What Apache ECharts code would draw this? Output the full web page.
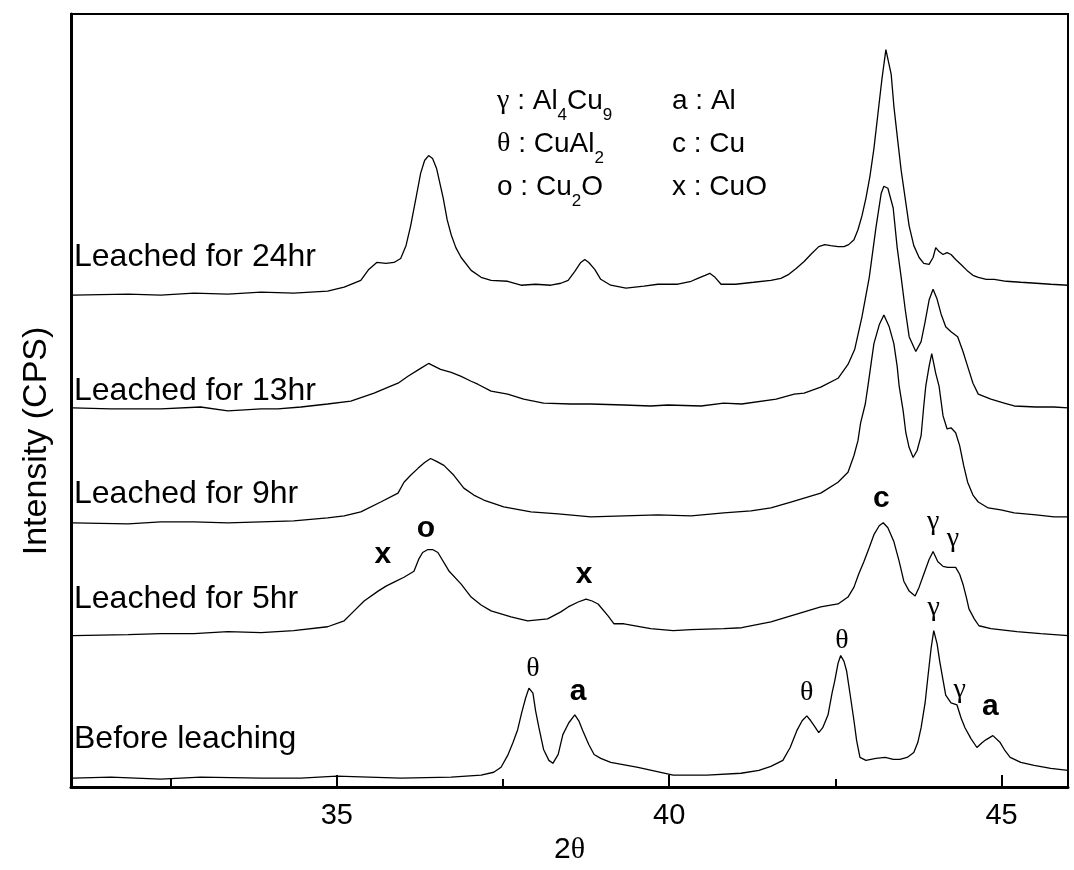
<!DOCTYPE html>
<html><head><meta charset="utf-8">
<script src="https://cdn.jsdelivr.net/npm/echarts/dist/echarts.min.js"></script>
<style>html,body{margin:0;padding:0;background:#fff}#c{width:1074px;height:870px}</style>
</head><body><div id="c"></div>
<script>
// ---- data (2θ in degrees, intensity in arbitrary stacked units) ----
const seriesNames = ['Leached for 24hr','Leached for 13hr','Leached for 9hr','Leached for 5hr','Before leaching'];
const majorTicks = [35, 40, 45];
const minorTicks = [32.5, 37.5, 42.5];

const leached24 = [[31.03,497],[31.86,498],[32.35,497],[32.85,499],[33.36,498],[33.86,500],[34.35,499],[34.86,501],[35.11,505],[35.36,512],[35.48,523],[35.60,530],[35.74,529],[35.86,530],[35.96,534],[36.04,547],[36.11,567],[36.19,595],[36.26,620],[36.32,633],[36.38,638],[36.44,635],[36.50,625],[36.60,595],[36.66,573],[36.72,558],[36.79,545],[36.87,535],[37.02,522],[37.17,515],[37.32,512],[37.57,511],[37.77,507],[37.99,508],[38.22,507],[38.37,509],[38.48,512],[38.58,521],[38.67,530],[38.73,533],[38.79,530],[38.88,523],[38.97,513],[39.12,507],[39.35,504],[39.62,506],[39.83,508],[40.13,508],[40.33,511],[40.43,514],[40.54,517],[40.61,519],[40.69,515],[40.78,508],[41.00,508],[41.27,510],[41.53,512],[41.68,514],[41.80,518],[41.91,524],[42.03,531],[42.13,538],[42.25,546],[42.34,548],[42.43,547],[42.54,546],[42.63,546],[42.70,548],[42.78,553],[42.84,563],[42.90,577],[42.96,595],[43.02,617],[43.08,645],[43.14,680],[43.20,715],[43.26,745],[43.29,743],[43.34,720],[43.38,688],[43.44,652],[43.49,623],[43.55,595],[43.61,567],[43.68,547],[43.76,535],[43.83,529],[43.91,528],[43.97,535],[44.01,545],[44.06,541],[44.12,538],[44.18,540],[44.24,538],[44.31,533],[44.39,528],[44.48,522],[44.57,517],[44.65,515],[44.77,513],[44.89,513],[45.07,511],[45.29,510],[45.52,509],[45.74,508],[46.0,507]];

const leached13 = [[31.03,383],[31.60,382],[32.35,382],[32.95,384],[33.36,380],[33.86,382],[34.11,382],[34.46,384],[34.86,387],[35.21,390],[35.56,398],[35.81,405],[35.92,408],[36.07,415],[36.26,423],[36.38,428],[36.47,425],[36.56,422],[36.72,419],[36.87,415],[37.02,410],[37.12,407],[37.32,400],[37.57,397],[37.81,392],[38.11,388],[38.52,387],[38.82,387],[39.32,386],[39.72,385],[39.98,386],[40.48,385],[40.82,388],[41.09,387],[41.61,392],[41.88,397],[42.03,398],[42.28,404],[42.54,413],[42.69,427],[42.79,442],[42.90,475],[43.01,515],[43.11,565],[43.19,600],[43.23,607],[43.29,605],[43.37,585],[43.43,545],[43.49,515],[43.55,483],[43.61,455],[43.71,440],[43.79,450],[43.85,470],[43.91,492],[43.97,503],[44.03,493],[44.09,478],[44.16,465],[44.24,460],[44.34,455],[44.42,440],[44.49,425],[44.57,408],[44.65,397],[44.84,392],[45.04,388],[45.19,385],[45.52,384],[45.79,384],[46.0,383]];

const leached9 = [[31.03,267],[31.86,266],[32.35,268],[32.85,268],[33.36,267],[33.86,268],[34.35,269],[34.86,272],[35.11,274],[35.36,278],[35.66,288],[35.92,297],[36.01,308],[36.11,315],[36.22,322],[36.32,328],[36.41,332],[36.50,329],[36.61,325],[36.76,315],[36.91,302],[37.06,295],[37.21,290],[37.51,283],[37.92,278],[38.33,276],[38.82,273],[39.32,274],[39.83,275],[40.33,274],[40.82,277],[41.23,279],[41.53,282],[41.83,288],[42.03,292],[42.28,297],[42.54,308],[42.69,318],[42.78,335],[42.84,350],[42.88,368],[42.95,387],[42.99,405],[43.04,429],[43.08,448],[43.16,467],[43.23,477],[43.31,465],[43.38,448],[43.43,425],[43.46,405],[43.52,380],[43.56,358],[43.61,343],[43.67,333],[43.73,340],[43.79,355],[43.83,385],[43.86,405],[43.91,425],[43.95,438],[44.01,418],[44.06,405],[44.12,375],[44.18,362],[44.24,363],[44.31,358],[44.37,345],[44.43,325],[44.49,308],[44.57,295],[44.65,288],[44.80,282],[44.99,280],[45.19,277],[45.52,275],[45.79,273],[46.0,273]];

const leached5 = [[31.03,153],[31.86,154],[32.35,155],[32.85,155],[33.36,157],[33.86,156],[34.35,158],[34.86,162],[35.11,168],[35.26,178],[35.41,188],[35.62,198],[35.74,203],[35.86,207],[36.01,212],[36.16,218],[36.23,230],[36.29,237],[36.37,240],[36.44,240],[36.52,237],[36.69,218],[36.87,205],[37.02,192],[37.17,184],[37.32,178],[37.62,172],[37.87,168],[38.17,170],[38.37,177],[38.48,182],[38.63,187],[38.75,190],[38.84,188],[38.93,185],[39.08,173],[39.17,165],[39.32,165],[39.72,160],[40.06,158],[40.33,159],[40.82,160],[41.09,161],[41.53,167],[41.83,173],[42.03,177],[42.28,182],[42.54,185],[42.69,192],[42.78,202],[42.85,215],[42.93,228],[43.01,242],[43.08,255],[43.16,264],[43.22,267],[43.29,262],[43.38,248],[43.46,228],[43.53,208],[43.61,198],[43.70,193],[43.76,202],[43.83,215],[43.91,230],[43.97,238],[44.04,228],[44.12,223],[44.19,222],[44.31,222],[44.37,215],[44.42,205],[44.47,192],[44.51,180],[44.59,170],[44.66,163],[44.84,160],[45.23,157],[45.59,155],[46.0,153]];

const beforeLeaching = [[31.03,9],[31.60,10],[32.35,8],[32.95,10],[33.86,9],[34.46,9],[35.00,11],[35.96,9],[36.72,10],[37.17,12],[37.36,15],[37.47,20],[37.57,32],[37.65,45],[37.72,58],[37.78,75],[37.84,90],[37.89,100],[37.95,95],[37.99,77],[38.04,60],[38.11,38],[38.19,27],[38.25,24],[38.33,33],[38.40,53],[38.49,65],[38.58,73],[38.64,67],[38.70,57],[38.79,43],[38.87,33],[38.97,29],[39.12,25],[39.53,20],[40.06,12],[40.57,12],[41.08,14],[41.35,17],[41.53,21],[41.71,27],[41.82,40],[41.92,57],[42.00,67],[42.07,72],[42.13,67],[42.18,62],[42.25,55],[42.31,60],[42.39,73],[42.45,95],[42.49,107],[42.54,125],[42.58,133],[42.63,127],[42.67,117],[42.73,90],[42.78,67],[42.82,47],[42.87,30],[42.96,27],[43.11,29],[43.25,30],[43.37,28],[43.47,28],[43.58,30],[43.68,35],[43.74,45],[43.79,60],[43.85,85],[43.89,110],[43.94,140],[43.98,158],[44.03,145],[44.07,127],[44.12,108],[44.16,93],[44.24,85],[44.33,83],[44.39,70],[44.45,60],[44.54,49],[44.63,40],[44.71,45],[44.77,48],[44.87,52],[44.98,45],[45.05,37],[45.13,30],[45.29,25],[45.49,22],[45.74,19],[46.0,17]];

// peak markers
const peakText = ['x','o','x','θ','a','θ','θ','c','γ','γ','γ','γ','a'];
const peakX    = [35.69,36.34,38.72,37.95,38.63,42.07,42.60,43.19,43.97,44.27,43.98,44.37,44.83];
const peakY    = [235,261,215,120,96,95,148,291,268,251,181,98,81];

const allSeries = [leached24, leached13, leached9, leached5, beforeLeaching];
const greek = ['θ','γ'];

const chart = echarts.init(document.getElementById('c'), null, {renderer:'canvas'});

const series = allSeries.map((d, i) => ({
  name: seriesNames[i], type: 'line', data: d, showSymbol: false, smooth: false,
  lineStyle: {color: '#000', width: 1.3}, animation: false, silent: true
}));
series.push({
  type: 'scatter', symbolSize: 1, itemStyle: {color: '#fff', opacity: 1}, animation: false, silent: true,
  data: peakText.map((t, i) => ({name: t, value: [peakX[i], peakY[i]]})),
  label: {
    show: true, position: [0.5, 0.5], align: 'center', verticalAlign: 'middle',
    color: '#000', textBorderWidth: 0, opacity: 1,
    formatter: p => greek.includes(p.name) ? '{g|' + p.name + '}' : '{l|' + p.name + '}',
    rich: {
      g: {fontFamily: 'Liberation Serif', fontSize: 28, color: '#000', textBorderWidth: 0},
      l: {fontFamily: 'Liberation Sans', fontSize: 30, fontWeight: 'bold', color: '#000', textBorderWidth: 0}
    }
  }
});

const labelYs = [257, 391, 494, 599, 739];
const graphics = seriesNames.map((n, i) => ({
  type: 'text', x: 74, y: labelYs[i], silent: true,
  style: {text: n, fontSize: 32, fontFamily: 'Liberation Sans', fill: '#000', align: 'left', verticalAlign: 'middle'}
}));
graphics.push({
  type: 'text', x: 37, y: 441, rotation: Math.PI / 2, silent: true,
  style: {text: 'Intensity (CPS)', fontSize: 34, fontFamily: 'Liberation Sans', fill: '#000', align: 'center', verticalAlign: 'middle'}
});
const richLegend = {
  m: {fontSize: 28, fontFamily: 'Liberation Sans', lineHeight: 28, verticalAlign: 'top', fill: '#000'},
  g: {fontSize: 28, fontFamily: 'Liberation Serif', lineHeight: 28, verticalAlign: 'top', fill: '#000'},
  s: {fontSize: 17, fontFamily: 'Liberation Sans', lineHeight: 17, verticalAlign: 'top', padding: [20, 0, 0, 0], fill: '#000'}
};
const legendLines = [
  [497, 87, '{g|γ}{m| : Al}{s|4}{m|Cu}{s|9}'],
  [497, 130, '{g|θ}{m| : CuAl}{s|2}'],
  [497, 173, '{m|o : Cu}{s|2}{m|O}'],
  [672, 87, '{m|a : Al}'],
  [672, 130, '{m|c : Cu}'],
  [672, 173, '{m|x : CuO}']
];
legendLines.forEach(l => graphics.push({
  type: 'text', x: l[0], y: l[1], silent: true,
  style: {text: l[2], rich: richLegend, fill: '#000', align: 'left', verticalAlign: 'top'}
}));

chart.setOption({
  animation: false,
  backgroundColor: '#fff',
  grid: {left: 71, right: 6, top: 14, bottom: 75, show: true, borderColor: '#000', borderWidth: 2, backgroundColor: 'transparent'},
  xAxis: [{
    type: 'value', min: 31, max: 46,
    name: '2{t|θ}', nameLocation: 'middle', nameGap: 43,
    nameTextStyle: {fontSize: 30, fontFamily: 'Liberation Sans', color: '#000', rich: {t: {fontSize: 30, fontFamily: 'Liberation Serif', color: '#000'}}},
    axisLine: {show: true, lineStyle: {color: '#000', width: 3}},
    axisTick: {show: true, inside: true, length: 12, lineStyle: {color: '#000', width: 2}, customValues: majorTicks},
    axisLabel: {show: true, customValues: majorTicks, fontSize: 29, fontFamily: 'Liberation Sans', color: '#000', margin: 14},
    splitLine: {show: false}
  }, {
    type: 'value', min: 31, max: 46, position: 'bottom',
    axisLine: {show: false},
    axisTick: {show: true, inside: true, length: 8, lineStyle: {color: '#000', width: 2}, customValues: minorTicks},
    axisLabel: {show: false},
    splitLine: {show: false}
  }],
  yAxis: {
    type: 'value', min: 0, max: 781,
    axisLine: {show: true, lineStyle: {color: '#000', width: 3}},
    axisTick: {show: false}, axisLabel: {show: false}, splitLine: {show: false}
  },
  series: series,
  graphic: graphics
});
</script>
</body></html>
